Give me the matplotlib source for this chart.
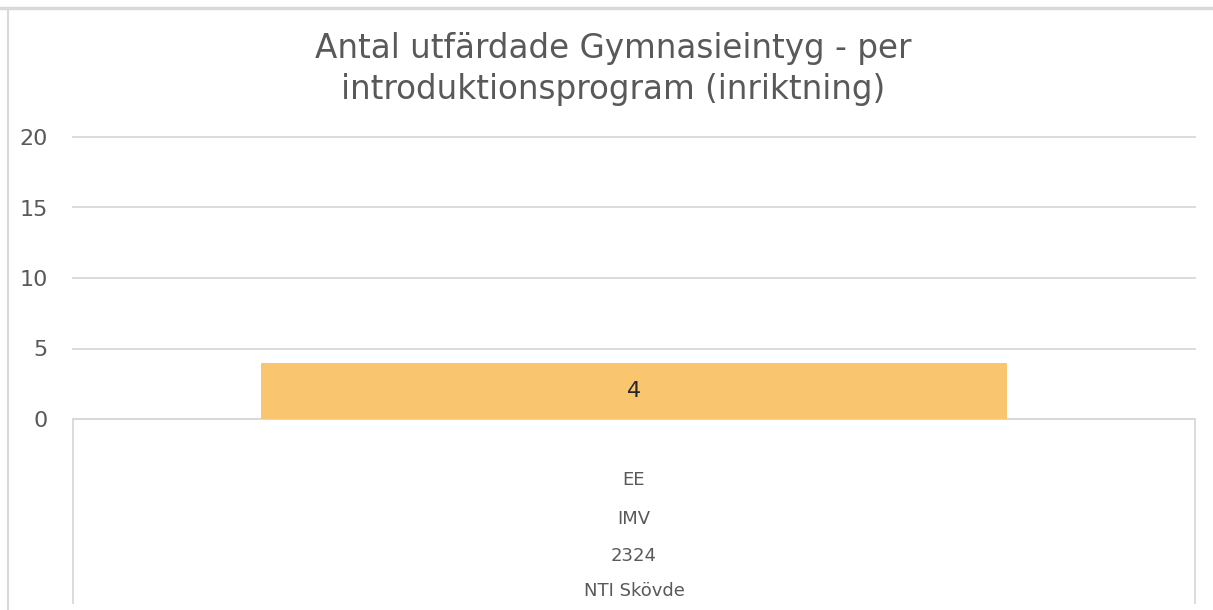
import numpy as np
import matplotlib.pyplot as plt
from matplotlib.lines import Line2D

# data
titel = 'Antal utfärdade Gymnasieintyg - per\nintroduktionsprogram (inriktning)'
kategorier = ['EE']
niva2 = ['IMV']
niva3 = ['2324']
niva4 = ['NTI Skövde']
antal = [4]
yticks = [0, 5, 10, 15, 20]

plt.rcParams['font.family'] = ['DejaVu Sans']
grå = '#595959'

fig = plt.figure(figsize=(12.13, 6.10), dpi=100)
ax = fig.add_axes([73/1213, 1-419/610, (1195-73)/1213, (419-137)/610])

x = np.arange(len(kategorier))
staplar = ax.bar(x, antal, width=0.665, color='#F9C56F', zorder=3)
for s, v in zip(staplar, antal):
    ax.text(s.get_x()+s.get_width()/2, v/2, str(v), ha='center', va='center',
            fontsize=16, color='#262626', zorder=4)

ax.set_xlim(-0.5, len(kategorier)-0.5)
ax.set_ylim(0, 20)
ax.set_yticks(yticks)
ax.tick_params(axis='y', length=0, pad=18, labelsize=16, labelcolor=grå)
ax.set_xticks([])
ax.grid(axis='y', color='#D9D9D9', linewidth=1.3, zorder=0)
for gl in ax.get_ygridlines():
    gl.set_clip_on(False)
for sp in ['top', 'right', 'left']:
    ax.spines[sp].set_visible(False)
ax.spines['bottom'].set_color('#D9D9D9')
ax.spines['bottom'].set_linewidth(1.3)

# kategoribox under axeln
for xx in [0, 1]:
    ax.add_line(Line2D([xx, xx], [0, -0.652], transform=ax.transAxes,
                       color='#D9D9D9', linewidth=1.3, clip_on=False))
for i in x:
    xa = (i + 0.5) / len(kategorier)
    for txt, ya in zip([kategorier[i], niva2[i], niva3[i], niva4[i]],
                       [-0.216, -0.355, -0.486, -0.610]):
        ax.text(xa, ya, txt, transform=ax.transAxes, ha='center', va='center',
                fontsize=13, color=grå)

fig.text(613/1213, 1-69/610, titel, ha='center', va='center', fontsize=23.5,
         color=grå, linespacing=1.3)

# ram runt diagrammet
fig.add_artist(Line2D([0, 1], [1-8/610, 1-8/610], transform=fig.transFigure,
                      color='#D9D9D9', linewidth=2.5))
fig.add_artist(Line2D([8/1213, 8/1213], [0, 1-8/610], transform=fig.transFigure,
                      color='#D9D9D9', linewidth=1.5))

fig.savefig('out.png', dpi=100)
